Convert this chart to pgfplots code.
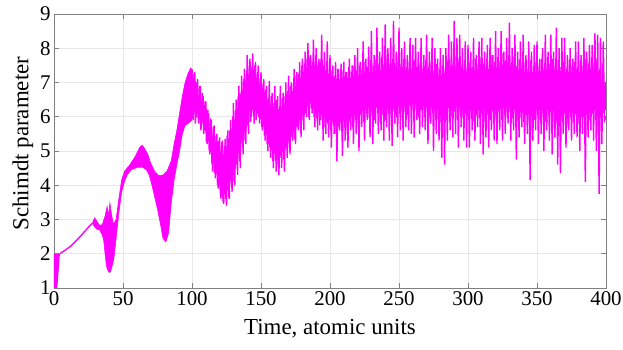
\documentclass[border=0pt]{standalone}
\usepackage{fontspec}
\setmainfont{Liberation Serif}
\usepackage{pgfplots}
\pgfplotsset{compat=1.18}
\definecolor{mag}{RGB}{255,0,255}
\begin{document}
\begin{tikzpicture}
\begin{axis}[name=ax, scale only axis, width=552bp, height=274bp,
  xmin=0, xmax=400, ymin=1, ymax=9,
  xtick={0,50,...,400}, ytick={1,2,...,9},
  grid=major, major grid style={draw=black!9, line width=0.6bp},
  axis line style={draw=black!50, line width=0.7bp},
  tick style={draw=black!50, line width=0.6bp},
  tick align=inside, major tick length=5bp,
  ticklabel style={font=\fontsize{21}{24}\selectfont},
  /pgf/number format/assume math mode=true,
  label style={font=\fontsize{23}{26}\selectfont},
  xlabel={Time, atomic units}, ylabel={Schimdt parameter},
  xlabel style={at={(axis description cs:0.5,-0.15)}, anchor=center},
  ylabel style={at={(axis description cs:-0.0562,0.527)}, anchor=center},
]
% start: fast oscillation between 1 and 2
\addplot[draw=none, fill=mag] coordinates {(0,1)(0,2)(4.3,2)(2.4,1)};
% smooth rise
\addplot[mag, line width=1.4bp] coordinates {(4.3,2.0)(6,2.05)(8,2.1)(10,2.16)(12,2.22)(14,2.3)(16,2.38)(18,2.46)(20,2.55)(22,2.64)(24,2.73)(26,2.82)(28,2.9)};
% dense band t = 28..100
\addplot[draw=mag, line width=0.6bp, fill=mag] coordinates {
(28,2.92)(29.5,3.05)(31,2.95)(33,2.83)(35,2.85)(37,3.1)(38.5,3.38)(39.5,3.1)(40.5,3.48)(41.5,3.2)(43,2.85)(45,3.0)(47,3.6)(49,4.15)(51,4.4)(55,4.6)(59,4.85)(62,5.1)(64,5.17)(66,5.05)(68,4.9)(70,4.65)(73,4.4)(76,4.28)(79,4.3)(82,4.42)(85,4.72)(87,5.2)(89,5.6)(91,6.1)(93,6.6)(95,7.0)(97,7.25)(99,7.42)(100,7.38)
(100,5.9)(97,5.8)(95,5.75)(93,5.5)(91,5.0)(89,4.6)(87,4.15)(85,3.5)(83,2.6)(81,2.35)(79,2.45)(77,2.9)(75,3.3)(73,3.65)(71,4.0)(69,4.3)(67,4.45)(64,4.53)(60,4.52)(56,4.45)(53,4.3)(51,4.1)(49,3.8)(47,3.2)(45,2.45)(43.5,1.9)(42.5,1.7)(41,1.48)(40,1.45)(39,1.52)(38,1.65)(37,2.0)(36,2.4)(35,2.55)(34,2.62)(33,2.7)(31,2.72)(29.5,2.78)(28,2.88)};
% dense core t = 100..400
\addplot[draw=none, fill=mag] coordinates {
(100,7.0)(104,6.7)(108,6.3)(112,5.8)(116,5.3)(120,5.0)(123,4.9)(126,5.2)(130,5.8)(134,6.4)(138,7.0)(142,7.3)(146,7.2)(150,6.8)(154,6.5)(158,6.3)(162,6.2)(166,6.3)(170,6.6)(174,6.8)(178,7.1)(182,7.4)(186,7.5)(190,7.5)(195,7.4)(200,7.2)(205,7.1)(210,7.1)(220,7.2)(230,7.3)(240,7.4)(250,7.4)(260,7.3)(270,7.3)(280,7.2)(290,7.4)(300,7.3)(310,7.4)(320,7.4)(330,7.5)(340,7.3)(350,7.3)(360,7.4)(370,7.3)(380,7.3)(390,7.4)(400,6.9)
(400,6.2)(390,6.2)(380,6.1)(370,6.1)(360,6.2)(350,6.2)(340,6.1)(330,6.3)(320,6.2)(310,6.2)(300,6.2)(290,6.3)(280,6.2)(270,6.3)(260,6.4)(250,6.3)(240,6.2)(230,6.3)(220,6.1)(210,5.9)(205,5.8)(200,5.9)(195,6.0)(190,6.2)(186,6.4)(182,6.2)(178,5.9)(174,5.6)(170,5.3)(166,5.0)(162,4.8)(158,5.0)(154,5.5)(150,5.9)(146,6.2)(142,6.2)(138,5.6)(134,5.0)(130,4.4)(126,3.9)(123,3.7)(120,4.0)(116,4.6)(112,5.3)(108,5.8)(104,6.1)(100,6.2)};
% medium oscillation
\addplot[mag, line width=1.4bp] coordinates {
(100.5,5.95)(101.5,7.25)(102.5,5.8)(103.5,7.0)(104.5,5.95)(105.5,6.9)(106.5,5.6)(107.5,6.7)(108.5,5.5)(109.5,6.45)
(110.5,5.25)(111.5,6.2)(112.5,5.0)(113.5,5.95)(114.5,4.6)(115.5,5.7)(116.5,4.35)(117.5,5.45)(118.5,4.0)(119.5,5.3)
(120.5,3.75)(121.5,5.25)(122.5,3.5)(123.5,5.15)(124.5,3.6)(125.5,5.45)(126.5,3.65)(127.5,5.6)(128.5,4.0)(129.5,6.0)
(130.5,4.1)(131.5,6.2)(132.5,4.6)(133.5,6.6)(134.5,4.7)(135.5,6.7)(136.5,5.2)(137.5,7.1)(138.5,5.3)(139.5,7.35)
(140.5,5.75)(141.5,7.5)(142.5,5.85)(143.5,7.45)(144.5,6.1)(145.5,7.5)(146.5,5.9)(147.5,7.3)(148.5,6.0)(149.5,7.1)
(150.5,5.7)(151.5,6.95)(152.5,5.45)(153.5,6.8)(154.5,5.2)(155.5,6.55)(156.5,5.1)(157.5,6.6)(158.5,4.7)(159.5,6.4)
(160.5,4.7)(161.5,6.5)(162.5,4.55)(163.5,6.3)(164.5,4.8)(165.5,6.55)(166.5,4.75)(167.5,6.6)(168.5,5.05)(169.5,6.75)
(170.5,5.1)(171.5,6.9)(172.5,5.4)(173.5,6.95)(174.5,5.35)(175.5,7.2)(176.5,5.7)(177.5,7.25)(178.5,5.65)(179.5,7.5)
(180.5,5.9)(181.5,7.55)(182.5,6.1)(183.5,7.7)(184.5,6.0)(185.5,7.75)(186.5,6.25)(187.5,7.6)(188.5,6.0)(189.5,7.8)
(190.5,5.95)(191.5,7.6)(192.5,5.75)(193.5,7.7)(194.5,5.9)(195.5,7.5)(196.5,5.7)(197.5,7.55)(198.5,5.8)(199.5,7.4)
(200.5,5.6)(201.5,7.35)(202.5,5.75)(203.5,7.2)(204.5,5.5)(205.5,7.4)(206.5,5.7)(207.5,7.25)(208.5,5.55)(209.5,7.35)
(210.5,5.8)(211.5,7.3)(212.5,5.6)(213.5,7.45)(214.5,5.85)(215.5,7.3)(216.5,5.7)(217.5,7.5)(218.5,5.9)(219.5,7.35)
(220.5,5.8)(221.5,7.5)(222.5,6.05)(223.5,7.4)(224.5,5.85)(225.5,7.6)(226.5,6.1)(227.5,7.45)(228.5,5.95)(229.5,7.65)
(230.5,6.15)(231.5,7.5)(232.5,5.9)(233.5,7.7)(234.5,6.1)(235.5,7.55)(236.5,5.85)(237.5,7.75)(238.5,6.05)(239.5,7.6)
(240.5,5.9)(241.5,7.8)(242.5,6.15)(243.5,7.55)(244.5,5.95)(245.5,7.7)(246.5,6.2)(247.5,7.5)(248.5,6.0)(249.5,7.75)
(250.5,6.1)(251.5,7.55)(252.5,5.95)(253.5,7.7)(254.5,6.25)(255.5,7.45)(256.5,6.05)(257.5,7.6)(258.5,6.3)(259.5,7.4)
(260.5,6.1)(261.5,7.65)(262.5,6.2)(263.5,7.45)(264.5,5.95)(265.5,7.6)(266.5,6.2)(267.5,7.4)(268.5,6.0)(269.5,7.65)
(270.5,6.15)(271.5,7.45)(272.5,5.95)(273.5,7.6)(274.5,6.1)(275.5,7.35)(276.5,5.9)(277.5,7.55)(278.5,6.05)(279.5,7.4)
(280.5,5.85)(281.5,7.5)(282.5,6.05)(283.5,7.35)(284.5,5.9)(285.5,7.65)(286.5,6.15)(287.5,7.5)(288.5,6.0)(289.5,7.75)
(290.5,6.15)(291.5,7.55)(292.5,5.9)(293.5,7.7)(294.5,6.1)(295.5,7.45)(296.5,5.95)(297.5,7.65)(298.5,6.1)(299.5,7.4)
(300.5,5.9)(301.5,7.6)(302.5,6.1)(303.5,7.45)(304.5,5.85)(305.5,7.7)(306.5,6.05)(307.5,7.5)(308.5,5.95)(309.5,7.75)
(310.5,6.1)(311.5,7.55)(312.5,5.85)(313.5,7.7)(314.5,6.05)(315.5,7.5)(316.5,5.9)(317.5,7.8)(318.5,6.1)(319.5,7.6)
(320.5,5.95)(321.5,7.75)(322.5,6.15)(323.5,7.6)(324.5,5.9)(325.5,7.85)(326.5,6.2)(327.5,7.65)(328.5,6.0)(329.5,7.8)
(330.5,6.15)(331.5,7.6)(332.5,5.95)(333.5,7.75)(334.5,6.1)(335.5,7.5)(336.5,5.8)(337.5,7.65)(338.5,6.0)(339.5,7.45)
(340.5,5.85)(341.5,7.6)(342.5,6.05)(343.5,7.4)(344.5,5.8)(345.5,7.65)(346.5,6.1)(347.5,7.45)(348.5,5.9)(349.5,7.6)
(350.5,6.05)(351.5,7.45)(352.5,5.9)(353.5,7.7)(354.5,6.1)(355.5,7.5)(356.5,5.85)(357.5,7.75)(358.5,6.05)(359.5,7.55)
(360.5,5.9)(361.5,7.7)(362.5,6.1)(363.5,7.5)(364.5,5.8)(365.5,7.65)(366.5,6.0)(367.5,7.45)(368.5,5.85)(369.5,7.6)
(370.5,6.05)(371.5,7.4)(372.5,5.8)(373.5,7.65)(374.5,6.0)(375.5,7.5)(376.5,5.85)(377.5,7.6)(378.5,6.05)(379.5,7.45)
(380.5,5.8)(381.5,7.65)(382.5,6.0)(383.5,7.5)(384.5,5.85)(385.5,7.7)(386.5,6.05)(387.5,7.55)(388.5,5.9)(389.5,7.75)
(390.5,6.1)(391.5,7.6)(392.5,5.9)(393.5,7.7)(394.5,6.05)(395.5,7.4)(396.5,5.95)(397.5,7.5)(398.5,6.1)(399.5,7.0)};
% spikes
\addplot[mag, line width=1.4bp] coordinates {
(100,7.4)(101,5.9)(102,7.3)(103,6.0)(104,7.1)(105,5.8)(106,6.9)(107,5.85)(108,6.6)(109,5.6)
(110,6.45)(111,5.2)(112,6.1)(113,4.9)(114,5.9)(115,4.4)(116,5.75)(117,4.2)(118,5.5)(119,3.9)
(120,5.4)(121,3.6)(122,5.3)(123,3.45)(124,5.35)(125,3.4)(126,5.6)(127,3.6)(128,5.9)(129,3.8)
(130,6.4)(131,4.0)(132,6.5)(133,4.3)(134,6.9)(135,4.5)(136,7.2)(137,4.9)(138,7.4)(139,5.2)
(140,7.8)(141,5.5)(142,7.7)(143,6.0)(144,7.85)(145,5.8)(146,7.6)(147,6.1)(148,7.5)(149,5.8)
(150,7.3)(151,5.6)(152,7.1)(153,5.3)(154,6.9)(155,5.0)(156,7.05)(157,4.8)(158,6.7)(159,4.5)
(160,6.9)(161,4.4)(162,6.6)(163,4.3)(164,6.9)(165,4.5)(166,6.7)(167,4.4)(168,7.0)(169,4.8)
(170,7.2)(171,4.9)(172,7.0)(173,5.3)(174,7.4)(175,5.2)(176,7.3)(177,5.6)(178,7.6)(179,5.4)
(180,7.7)(181,5.6)(182,7.9)(183,6.0)(184,8.15)(185,5.9)(186,7.8)(187,6.1)(188,8.25)(189,5.7)
(190,8.0)(191,5.6)(192,7.7)(193,5.9)(194,8.4)(195,5.3)(196,7.9)(197,5.5)(198,8.2)(199,5.4)
(200,7.8)(201,5.1)(202,7.5)(203,5.5)(204,7.6)(205,4.7)(206,7.4)(207,5.6)(208,7.55)(209,4.85)
(210,7.6)(211,5.3)(212,7.3)(213,5.1)(214,7.7)(215,5.6)(216,7.5)(217,5.2)(218,7.8)(219,5.5)
(220,8.0)(221,5.0)(222,7.6)(223,5.7)(224,8.2)(225,5.3)(226,7.7)(227,5.9)(228,8.05)(229,5.4)
(230,8.5)(231,5.2)(232,7.8)(233,5.8)(234,8.6)(235,5.5)(236,7.9)(237,5.6)(238,8.3)(239,5.3)
(240,8.7)(241,5.7)(242,8.0)(243,5.3)(244,8.3)(245,5.15)(246,8.8)(247,5.8)(248,7.9)(249,5.4)
(250,8.6)(251,5.6)(252,8.0)(253,5.3)(254,8.2)(255,5.7)(256,7.8)(257,5.6)(258,8.3)(259,5.5)
(260,8.1)(261,5.4)(262,8.3)(263,5.9)(264,7.9)(265,5.5)(266,8.3)(267,5.7)(268,7.8)(269,5.6)
(270,8.4)(271,5.2)(272,7.9)(273,5.8)(274,8.3)(275,5.0)(276,8.0)(277,5.5)(278,7.7)(279,5.3)
(280,8.0)(281,4.8)(282,7.8)(283,4.6)(284,8.0)(285,5.3)(286,8.4)(287,5.6)(288,8.2)(289,5.4)
(290,8.8)(291,5.5)(292,8.3)(293,5.1)(294,8.4)(295,5.7)(296,8.0)(297,5.3)(298,8.2)(299,5.1)
(300,8.1)(301,5.1)(302,7.9)(303,5.6)(304,8.3)(305,5.3)(306,7.8)(307,5.7)(308,8.2)(309,5.2)
(310,8.3)(311,4.9)(312,7.9)(313,5.4)(314,8.1)(315,5.1)(316,8.3)(317,5.6)(318,7.8)(319,5.3)
(320,8.5)(321,5.2)(322,8.0)(323,5.6)(324,8.5)(325,5.3)(326,7.9)(327,5.5)(328,8.3)(329,5.8)
(330,8.75)(331,5.3)(332,8.0)(333,5.6)(334,8.4)(335,4.75)(336,7.9)(337,5.4)(338,8.2)(339,5.7)
(340,8.4)(341,5.2)(342,7.8)(343,5.5)(344,8.2)(345,4.15)(346,7.9)(347,5.3)(348,8.1)(349,5.6)
(350,8.2)(351,5.2)(352,7.7)(353,5.5)(354,8.0)(355,5.0)(356,8.4)(357,5.6)(358,7.9)(359,5.3)
(360,8.4)(361,4.9)(362,7.9)(363,5.4)(364,8.6)(365,4.6)(366,8.0)(367,4.35)(368,8.3)(369,5.5)
(370,8.3)(371,5.1)(372,7.8)(373,5.6)(374,8.0)(375,5.3)(376,7.7)(377,5.5)(378,8.2)(379,5.4)
(380,8.2)(381,5.0)(382,7.8)(383,5.5)(384,8.3)(385,4.1)(386,7.9)(387,5.4)(388,8.1)(389,5.6)
(390,8.1)(391,5.3)(392,8.45)(393,5.0)(394,8.4)(395,3.75)(396,8.3)(397,5.2)(398,8.2)(399,5.9)(400,6.0)};
\end{axis}
\pgfresetboundingbox
\path[use as bounding box] ([xshift=-54bp,yshift=-61bp]ax.south west) rectangle ([xshift=17bp,yshift=14bp]ax.north east);
\end{tikzpicture}
\end{document}
